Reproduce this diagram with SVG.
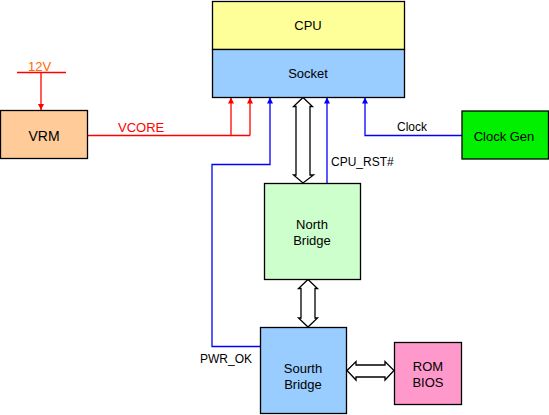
<svg xmlns="http://www.w3.org/2000/svg" width="549" height="415" viewBox="0 0 549 415">
<defs>
<style>
.box{stroke:#000;stroke-width:1.3}
.t{font-family:"Liberation Sans",Arial,sans-serif;font-size:13px;text-anchor:middle;fill:#000}
.l{font-family:"Liberation Sans",Arial,sans-serif;font-size:12px;fill:#000}
.red{stroke:#F00;stroke-width:1.3;fill:none}
.blue{stroke:#00F;stroke-width:1.3;fill:none}
.big{fill:#fff;stroke:#000;stroke-width:1.3}
</style>
<marker id="ar" viewBox="0 0 6 6" refX="6" refY="3" markerWidth="6" markerHeight="6" markerUnits="userSpaceOnUse" orient="auto"><path d="M0,0 L6,3 L0,6 z" fill="#F00"/></marker>
<marker id="ab" viewBox="0 0 6 6" refX="6" refY="3" markerWidth="6" markerHeight="6" markerUnits="userSpaceOnUse" orient="auto"><path d="M0,0 L6,3 L0,6 z" fill="#00F"/></marker>
</defs>
<rect width="549" height="415" fill="#fff"/>
<g id="connectors">
<path class="red" d="M17,72.5 H66"/>
<text class="l" x="28" y="71" style="fill:#FF6600;font-size:13px">12V</text>
<path class="red" d="M41,72.5 V110" marker-end="url(#ar)"/>
<path class="red" d="M87,135.5 H250"/>
<path class="red" d="M231,135.5 V97.5" marker-end="url(#ar)"/>
<path class="red" d="M250,135.5 V97.5" marker-end="url(#ar)"/>
<text class="l" x="118" y="132" style="fill:#F00;font-size:13px">VCORE</text>
<path class="blue" d="M260,346.5 H212 V164.5 H270 V97.5" marker-end="url(#ab)"/>
<text class="l" x="200" y="363">PWR_OK</text>
<path class="blue" d="M327,183 V97.5" marker-end="url(#ab)"/>
<text class="l" x="331" y="166">CPU_RST#</text>
<path class="blue" d="M462,135.5 H365 V97.5" marker-end="url(#ab)"/>
<text class="l" x="397" y="131">Clock</text>
<path class="big" d="M303,97.5 L312.5,106.5 H310 V175 H313.5 L303,183 L293.5,175 H296 V106.5 H293.5 z"/>
<path class="big" d="M308,279.5 L317.5,288.5 H315 V318 H317.5 L308,327 L298.5,318 H301 V288.5 H298.5 z"/>
<path class="big" d="M347,370.5 L356,361.5 V365 H385 V361.5 L394,370.5 L385,380 V377 H356 V380 z"/>
</g>
<g id="cpu">
<rect class="box" x="212.5" y="1.5" width="192" height="48" fill="#FFFF99"/>
<text class="t" x="308" y="30">CPU</text>
</g>
<g id="socket">
<rect class="box" x="212.5" y="49.5" width="192" height="48" fill="#99CCFF"/>
<text class="t" x="308" y="78">Socket</text>
</g>
<g id="vrm">
<rect class="box" x="0.5" y="110.5" width="87" height="48" fill="#FFCC99"/>
<text class="t" x="44" y="141" style="font-size:14px">VRM</text>
</g>
<g id="clockgen">
<rect class="box" x="462" y="111" width="86.5" height="48" fill="#00F000"/>
<text class="t" x="504" y="141">Clock Gen</text>
</g>
<g id="northbridge">
<rect class="box" x="264.5" y="183.5" width="96" height="96" fill="#CCFFCC"/>
<text class="t" x="312" y="229">North</text>
<text class="t" x="312" y="245">Bridge</text>
</g>
<g id="southbridge">
<rect class="box" x="260.5" y="327.5" width="86" height="86" fill="#99CCFF"/>
<text class="t" x="303" y="373">Sourth</text>
<text class="t" x="303" y="389">Bridge</text>
</g>
<g id="rombios">
<rect class="box" x="394.5" y="342.5" width="67" height="62" fill="#FF99CC"/>
<text class="t" x="428" y="371">ROM</text>
<text class="t" x="428" y="387">BIOS</text>
</g>
</svg>
